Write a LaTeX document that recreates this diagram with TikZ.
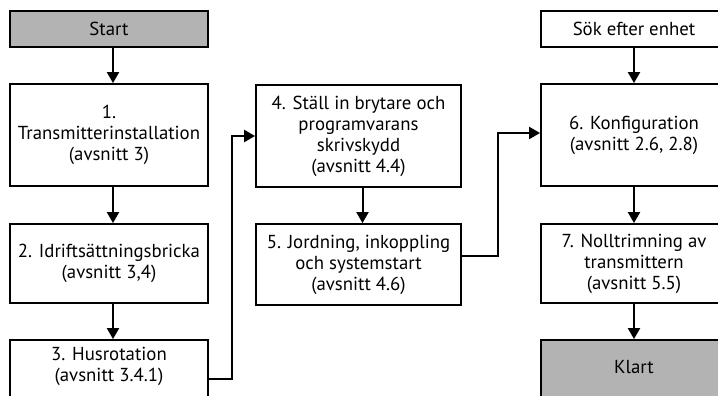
\documentclass[tikz,border=0pt]{standalone}
\usepackage{fontspec}
\setmainfont{PT Sans}
\usetikzlibrary{arrows.meta}
\definecolor{boxgrey}{HTML}{B3B3B3}
\begin{document}
\begin{tikzpicture}[x=1pt,y=-1pt,
  txt/.style={font=\fontsize{18.8}{21}\selectfont},
  box/.style={draw=black, line width=1.8pt, align=center, inner sep=0pt, txt},
  startbox/.style={box, fill=boxgrey},
  arr/.style={line width=2pt, -{Triangle[width=12pt,length=11pt]}}]
\useasboundingbox (0,0) rectangle (718,396);
\clip (0,0) rectangle (718,396);
% column 1
\node[startbox, minimum width=198pt, minimum height=36pt] (start) at (109,29) {Start};
\node[box, minimum width=198pt, minimum height=102pt] (b1) at (109,135) {1.\\Transmitterinstallation\\(avsnitt 3)};
\node[box, minimum width=198pt, minimum height=79pt] (b2) at (109,263.5) {2. Idriftsättningsbricka\\(avsnitt 3,4)};
\node[box, minimum width=198pt, minimum height=62pt] (b3) at (109,371) {};
\node[txt, align=center, anchor=north, inner sep=0pt] (b3t) at (109,347) {3. Husrotation\\(avsnitt 3.4.1)};
% column 2
\node[box, minimum width=205pt, minimum height=102pt] (b4) at (358.5,136) {4. Ställ in brytare och\\programvarans\\skrivskydd\\(avsnitt 4.4)};
\node[box, minimum width=205pt, minimum height=81pt] (b5) at (358.5,264.5) {5. Jordning, inkoppling\\och systemstart\\(avsnitt 4.6)};
% column 3
\node[box, minimum width=186pt, minimum height=36pt] (sok) at (634,29) {Sök efter enhet};
\node[box, minimum width=186pt, minimum height=102pt] (b6) at (634,135) {6. Konfiguration\\(avsnitt 2.6, 2.8)};
\node[box, minimum width=186pt, minimum height=79pt] (b7) at (634,263.5) {7. Nolltrimning av\\transmittern\\(avsnitt 5.5)};
\node[startbox, minimum width=186pt, minimum height=62pt] (klart) at (634,371) {};
\node[txt, anchor=center] (klartt) at (634,367) {Klart};
% arrows
\draw[arr] ([xshift=4pt]start.south) -- ([xshift=4pt]b1.north);
\draw[arr] ([xshift=4pt]b1.south) -- ([xshift=4pt]b2.north);
\draw[arr] ([xshift=4pt]b2.south) -- ([xshift=4pt]b3.north);
\draw[arr] ([xshift=4pt]b4.south) -- ([xshift=4pt]b5.north);
\draw[arr] (sok.south) -- (b6.north);
\draw[arr] (b6.south) -- (b7.north);
\draw[arr] (b7.south) -- (klart.north);
\draw[arr] ([yshift=-8pt]b3.east) -- ++(23,0) |- (b4.west);
\draw[arr] ([yshift=8.5pt]b5.east) -- ++(36,0) |- ([yshift=2pt]b6.west);
\end{tikzpicture}
\end{document}
